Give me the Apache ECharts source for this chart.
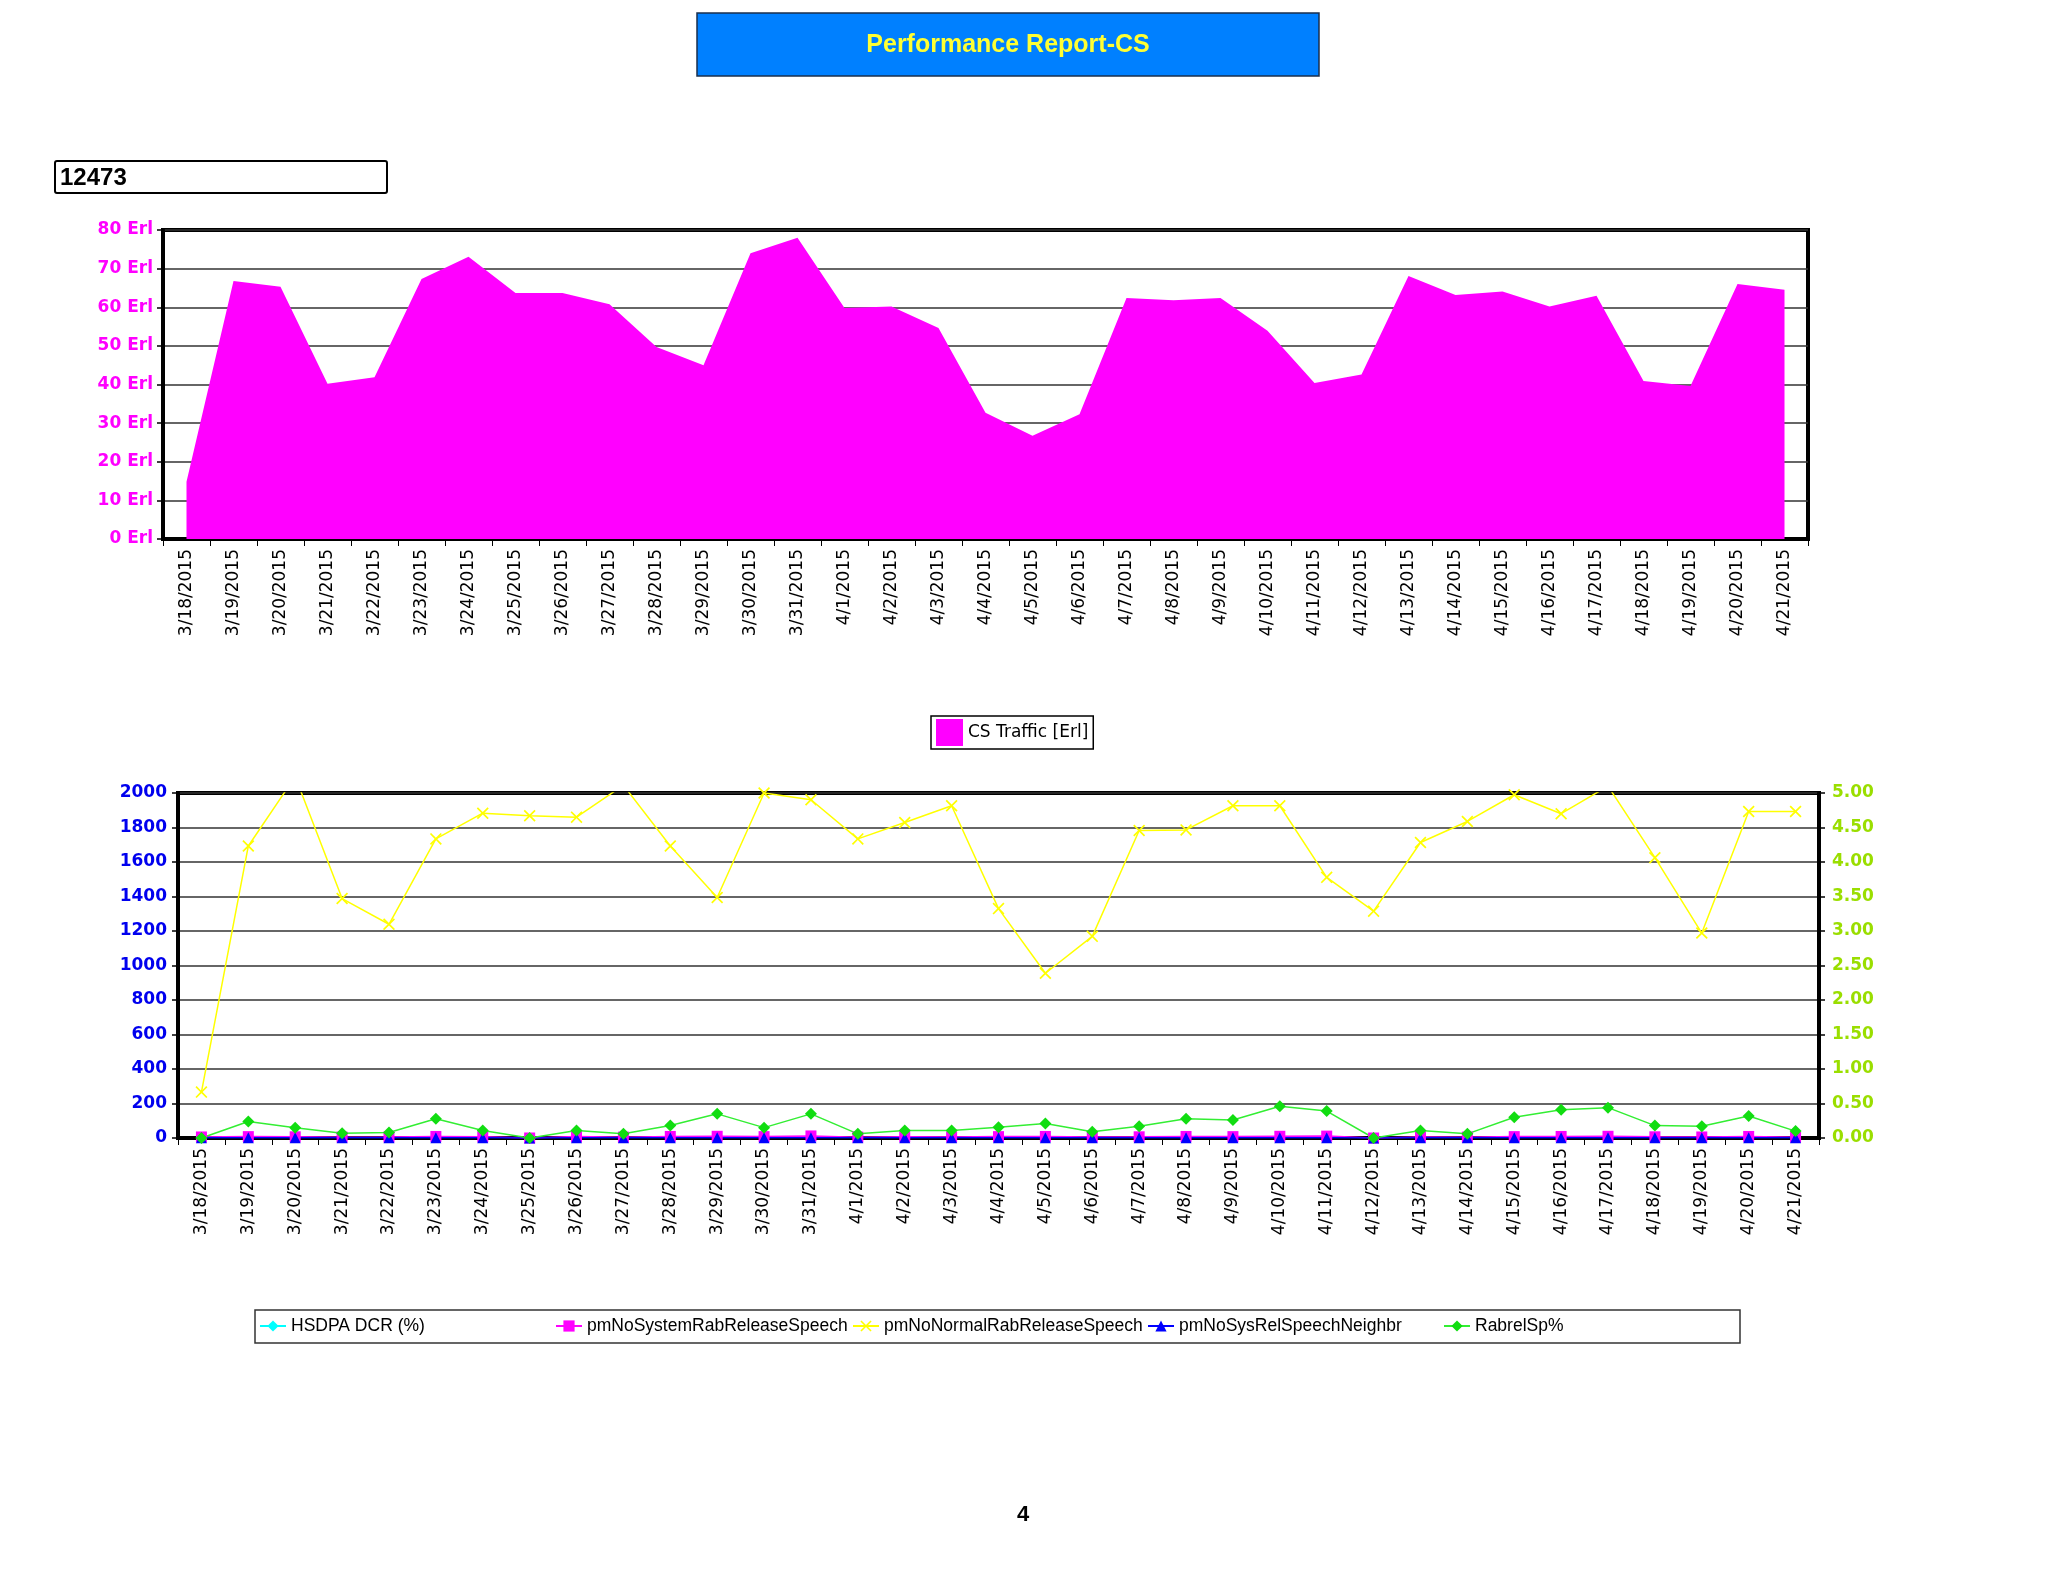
<!DOCTYPE html>
<html>
<head>
<meta charset="utf-8">
<script src="https://cdn.jsdelivr.net/npm/echarts@6/dist/echarts.min.js"></script>
<style>
html,body{margin:0;padding:0;background:#fff;}
#chart{width:2048px;height:1582px;}
</style>
</head>
<body>
<div id="chart"></div>
<script>
const dates = ['3/18/2015','3/19/2015','3/20/2015','3/21/2015','3/22/2015','3/23/2015','3/24/2015','3/25/2015','3/26/2015','3/27/2015','3/28/2015','3/29/2015','3/30/2015','3/31/2015','4/1/2015','4/2/2015','4/3/2015','4/4/2015','4/5/2015','4/6/2015','4/7/2015','4/8/2015','4/9/2015','4/10/2015','4/11/2015','4/12/2015','4/13/2015','4/14/2015','4/15/2015','4/16/2015','4/17/2015','4/18/2015','4/19/2015','4/20/2015','4/21/2015'];
const csTraffic = [14.8,66.8,65.3,40.2,41.9,67.3,73.1,63.7,63.7,60.8,49.7,45.0,74.0,78.0,59.8,60.2,54.6,32.7,26.7,32.3,62.4,61.8,62.4,53.9,40.4,42.6,68.1,63.2,64.1,60.2,63.0,40.9,39.6,66.0,64.5];
const hsdpaDcr = dates.map(() => null);
const pmNoSystemRabReleaseSpeech = [6,8,7,5,6,9,7,0,8,5,9,10,8,12,5,7,6,8,9,6,7,9,8,10,11,0,6,5,8,9,10,7,6,9,5];
const pmNoNormalRabReleaseSpeech = [266,1693,2095,1388,1239,1734,1883,1868,1860,2045,1693,1394,2000,1961,1734,1829,1926,1330,955,1169,1783,1786,1926,1926,1511,1315,1713,1835,1990,1880,2040,1625,1188,1893,1893];
const pmNoSysRelSpeechNeighbr = [1,1,1,1,1,1,1,0,1,1,1,1,1,1,1,1,1,1,1,1,1,1,1,1,1,0,1,1,1,1,1,1,1,1,1];
const rabrelSp = [0,0.24,0.15,0.07,0.08,0.28,0.11,0,0.11,0.06,0.18,0.35,0.15,0.35,0.06,0.11,0.11,0.155,0.21,0.09,0.17,0.28,0.26,0.46,0.39,0,0.11,0.06,0.30,0.41,0.44,0.18,0.17,0.32,0.10];
const topTicksMax = 80;
const leftTicksMax = 2000;
const rightTicksMax = 5;

const chart = echarts.init(document.getElementById('chart'), null, {renderer:'canvas'});
const xSym = 'path://M0,1 L1,0 L5,4 L9,0 L10,1 L6,5 L10,9 L9,10 L5,6 L1,10 L0,9 L4,5 Z';
const xLabel = {rotate:90, fontFamily:'DejaVu Sans', fontSize:17, color:'#000', margin:10, interval:0};
const legendCommon = {orient:'horizontal', itemWidth:26, itemHeight:14, padding:0, itemGap:0,
  textStyle:{fontFamily:'Liberation Sans', fontSize:17.5, color:'#000', lineHeight:20}};

chart.setOption({
  backgroundColor:'#fff',
  animation:false,
  grid:[
    {left:163, right:240, top:230, bottom:1043, show:true, borderColor:'#000', borderWidth:4, backgroundColor:'transparent'},
    {left:178, right:229, top:793, bottom:444, show:true, borderColor:'#000', borderWidth:4, backgroundColor:'transparent'}
  ],
  legend:[
    {left:931, top:716, data:['CS Traffic [Erl]'], icon:'rect', itemWidth:27, itemHeight:27, padding:[3,5,3,5],
     borderColor:'#000', borderWidth:1.5, textStyle:{fontFamily:'DejaVu Sans', fontSize:17, color:'#000'}},
    Object.assign({left:259, top:1316, data:['HSDPA DCR (%)']}, legendCommon),
    Object.assign({left:555, top:1316, data:['pmNoSystemRabReleaseSpeech']}, legendCommon),
    Object.assign({left:852, top:1316, data:['pmNoNormalRabReleaseSpeech']}, legendCommon),
    Object.assign({left:1147, top:1316, data:['pmNoSysRelSpeechNeighbr']}, legendCommon),
    Object.assign({left:1443, top:1316, data:['RabrelSp%']}, legendCommon)
  ],
  xAxis:[
    {type:'category', gridIndex:0, data:dates, boundaryGap:true,
     axisLine:{lineStyle:{color:'#000', width:4}}, axisTick:{show:true, length:7, lineStyle:{color:'#000', width:1}},
     axisLabel:xLabel, splitLine:{show:false}},
    {type:'category', gridIndex:1, data:dates, boundaryGap:true,
     axisLine:{lineStyle:{color:'#000', width:4}}, axisTick:{show:true, length:7, lineStyle:{color:'#000', width:1}},
     axisLabel:xLabel, splitLine:{show:false}}
  ],
  yAxis:[
    {type:'value', gridIndex:0, min:0, max:topTicksMax, interval:10,
     axisLine:{show:true, lineStyle:{color:'#000', width:4}}, axisTick:{show:true, length:6, lineStyle:{color:'#000', width:1.5}},
     axisLabel:{formatter:v => v + ' Erl', fontFamily:'DejaVu Sans', fontWeight:'bold', fontSize:17, color:'#ff00ff', margin:10},
     splitLine:{show:true, lineStyle:{color:'#333', width:1.5}}},
    {type:'value', gridIndex:1, min:0, max:leftTicksMax, interval:200, position:'left',
     axisLine:{show:true, lineStyle:{color:'#000', width:4}}, axisTick:{show:true, length:6, lineStyle:{color:'#000', width:1.5}},
     axisLabel:{formatter:v => String(v), fontFamily:'DejaVu Sans', fontWeight:'bold', fontSize:17, color:'#0000ee', margin:11},
     splitLine:{show:true, lineStyle:{color:'#333', width:1.5}}},
    {type:'value', gridIndex:1, min:0, max:rightTicksMax, interval:0.5, position:'right',
     axisLine:{show:true, lineStyle:{color:'#000', width:4}}, axisTick:{show:true, length:6, lineStyle:{color:'#000', width:1.5}},
     axisLabel:{formatter:v => v.toFixed(2), fontFamily:'DejaVu Sans', fontWeight:'bold', fontSize:17, color:'#9ade00', margin:13},
     splitLine:{show:false}}
  ],
  series:[
    {name:'CS Traffic [Erl]', type:'line', xAxisIndex:0, yAxisIndex:0, data:csTraffic,
     showSymbol:false, symbol:'none', lineStyle:{width:0, color:'#ff00ff'}, itemStyle:{color:'#ff00ff'},
     areaStyle:{color:'#ff00ff', opacity:1}},
    {name:'HSDPA DCR (%)', type:'line', xAxisIndex:1, yAxisIndex:2, data:hsdpaDcr,
     symbol:'diamond', symbolSize:11, itemStyle:{color:'#00ffff'}, lineStyle:{color:'#00ffff', width:1.5}},
    {name:'pmNoSystemRabReleaseSpeech', type:'line', xAxisIndex:1, yAxisIndex:1, data:pmNoSystemRabReleaseSpeech,
     symbol:'rect', symbolSize:11, itemStyle:{color:'#ff00ff'}, lineStyle:{color:'#ff00ff', width:1.5}},
    {name:'pmNoNormalRabReleaseSpeech', type:'line', xAxisIndex:1, yAxisIndex:1, data:pmNoNormalRabReleaseSpeech,
     symbol:xSym, symbolSize:12, itemStyle:{color:'#ffff00'}, lineStyle:{color:'#ffff00', width:1.5}, clip:true},
    {name:'pmNoSysRelSpeechNeighbr', type:'line', xAxisIndex:1, yAxisIndex:1, data:pmNoSysRelSpeechNeighbr,
     symbol:'triangle', symbolSize:11, itemStyle:{color:'#0000ff'}, lineStyle:{color:'#0000ff', width:1.5}},
    {name:'RabrelSp%', type:'line', xAxisIndex:1, yAxisIndex:2, data:rabrelSp,
     symbol:'diamond', symbolSize:12, itemStyle:{color:'#11dd11'}, lineStyle:{color:'#33ee33', width:1.5}}
  ],
  graphic:[
    {type:'rect', shape:{x:697, y:13, width:622, height:63}, style:{fill:'#0080ff', stroke:'#1a2f4d', lineWidth:1.5}},
    {type:'text', x:1008, y:45, style:{text:'Performance Report-CS', fill:'#ffff33', font:'bold 25px "Liberation Sans"', textAlign:'center', textVerticalAlign:'middle'}},
    {type:'rect', shape:{x:55, y:161, width:332, height:32, r:2}, style:{fill:'#fff', stroke:'#000', lineWidth:2}},
    {type:'text', x:60, y:178, style:{text:'12473', fill:'#000', font:'bold 24px "Liberation Sans"', textAlign:'left', textVerticalAlign:'middle'}},
    {type:'rect', shape:{x:255, y:1310, width:1485, height:33}, style:{fill:'none', stroke:'#333', lineWidth:1.5}},
    {type:'text', x:1023, y:1515, style:{text:'4', fill:'#000', font:'bold 22px "Liberation Sans"', textAlign:'center', textVerticalAlign:'middle'}}
  ]
});
</script>
</body>
</html>
